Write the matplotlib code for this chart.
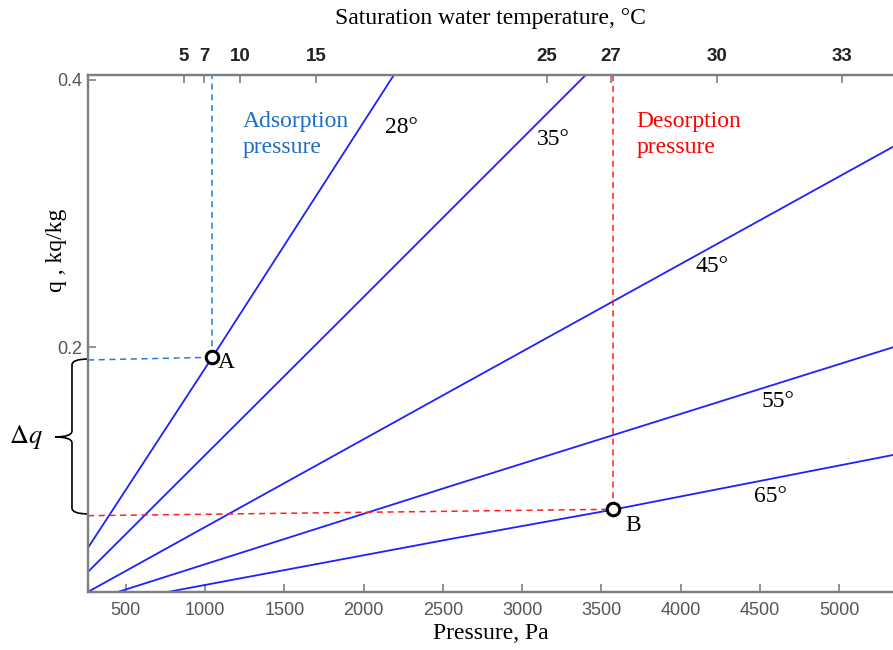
import matplotlib.pyplot as plt
import matplotlib.transforms as mtransforms
from matplotlib.path import Path
from matplotlib.patches import PathPatch

# isotherms: pressure [Pa] vs uptake q [kg/kg]
p_28 = [262, 1046, 2193]
q_28 = [0.050, 0.1925, 0.404]
p_35 = [262, 1852, 3404]
q_35 = [0.032, 0.220, 0.404]
p_45 = [262, 2546, 5340]
q_45 = [0.017, 0.167, 0.350]
p_55 = [453, 2546, 5340]
q_55 = [0.017, 0.096, 0.200]
p_65 = [768, 2546, 3587, 5340]
q_65 = [0.017, 0.0565, 0.0788, 0.1194]

# cycle points
p_A, q_A = 1046, 0.1925
p_B, q_B = 3575, 0.0788
q_A_dash = 0.1905
q_B_dash_left = 0.074

# saturation temperature axis (top)
sat_temp = [5, 7, 10, 15, 25, 27, 30, 33]
sat_press = [868, 996, 1221, 1700, 3156, 3560, 4229, 5017]

p_ticks = [500, 1000, 1500, 2000, 2500, 3000, 3500, 4000, 4500, 5000]
q_ticks = [0.2, 0.4]

serif = 'Liberation Serif'
sans = 'Liberation Sans'
plt.rcParams['mathtext.fontset'] = 'stix'

fig = plt.figure(figsize=(8.93, 6.5), dpi=100)
ax = fig.add_axes([88/893, 1 - 592/650, 805/893, 517/650])

blue = '#1f1fff'
for p, q in [(p_28, q_28), (p_35, q_35), (p_45, q_45), (p_55, q_55), (p_65, q_65)]:
    ax.plot(p, q, color=blue, lw=1.3)

# adsorption pressure guide (A)
ax.plot([p_A, p_A], [q_A, 0.41], color='#1f7fd6', lw=1.1, ls=(0, (4, 3)))
ax.plot([262, p_A], [q_A_dash, q_A], color='#1f7fd6', lw=1.1, ls=(0, (4, 3)))
# desorption pressure guide (B)
ax.plot([p_B, p_B], [q_B, 0.41], color='#ff2020', lw=1.1, ls=(0, (4, 3)))
ax.plot([262, p_B], [q_B_dash_left, q_B], color='#ff2020', lw=1.1, ls=(0, (4, 3)))

ax.plot([p_A, p_B], [q_A, q_B], ls='none', marker='o', ms=9, mfc='white',
        mec='black', mew=2.2, zorder=5)

ax.set_xlim(262, 5340)
ax.set_ylim(0.0169, 0.4037)

txt = dict(family=serif, fontsize=17)
ax.text(1137, 0.1884, 'A', ha='center', va='center', **txt)
ax.text(3702, 0.0670, 'B', ha='center', va='center', **txt)
ax.text(2241, 0.3641, '28°', ha='center', va='center', **txt)
ax.text(3196, 0.3551, '35°', ha='center', va='center', **txt)
ax.text(4197, 0.2603, '45°', ha='center', va='center', **txt)
ax.text(4617, 0.1593, '55°', ha='center', va='center', **txt)
ax.text(4565, 0.0882, '65°', ha='center', va='center', **txt)
ax.text(1240, 0.3592, 'Adsorption\npressure', ha='left', va='center',
        color='#1a6fc4', linespacing=1.3, **txt)
ax.text(3724, 0.3592, 'Desorption\npressure', ha='left', va='center',
        color='#ff0000', linespacing=1.3, **txt)

# brace for delta q
trans = mtransforms.blended_transform_factory(ax.transAxes, ax.transData)
xs, xt = -0.0199, -0.041
yt, ym, yb = 0.1912, 0.1329, 0.0753
r = 0.0045
verts = [(0, yt), (xs, yt), (xs, yt - r),
         (xs, ym + r), (xs, ym), (xt, ym),
         (xs, ym), (xs, ym - r),
         (xs, yb + r), (xs, yb), (0, yb)]
codes = [Path.MOVETO, Path.CURVE3, Path.CURVE3,
         Path.LINETO, Path.CURVE3, Path.CURVE3,
         Path.CURVE3, Path.CURVE3,
         Path.LINETO, Path.CURVE3, Path.CURVE3]
ax.add_patch(PathPatch(Path(verts, codes), transform=trans, fill=False,
                       lw=1.2, color='black', clip_on=False))
ax.text(-0.0771, ym, r'$\Delta q$', transform=trans, ha='center', va='center',
        fontsize=19)

grey = '#7f7f7f'
for side in ['left', 'bottom', 'top']:
    ax.spines[side].set_color(grey)
    ax.spines[side].set_linewidth(1.6)
ax.spines['right'].set_visible(False)

ax.set_xticks(p_ticks)
ax.set_yticks(q_ticks)
ax.set_yticklabels(['0.2', '0.4'])
ax.tick_params(direction='in', length=5.5, width=1.2, color=grey,
               labelsize=13, labelcolor='#555555')
ax.tick_params(axis='x', pad=7)
ax.tick_params(axis='y', pad=4)
for lab in ax.get_xticklabels() + ax.get_yticklabels():
    lab.set_family(sans)

ax.set_xlabel('Pressure, Pa', family=serif, fontsize=17, va='center')
ax.xaxis.set_label_coords(0.5, -0.080)
ax.set_ylabel('q , kq/kg', family=serif, fontsize=17, va='center')
ax.yaxis.set_label_coords(-0.0386, 0.66)

ax2 = ax.twiny()
ax2.set_xlim(ax.get_xlim())
ax2.set_xticks(sat_press)
ax2.set_xticklabels([str(t) for t in sat_temp])
ax2.tick_params(direction='in', length=5.5, width=1.2, color=grey,
                labelsize=13.5, labelcolor='#222222', pad=7)
for lab in ax2.get_xticklabels():
    lab.set_family(sans)
    lab.set_weight('bold')
for side in ['left', 'bottom', 'top']:
    ax2.spines[side].set_color(grey)
    ax2.spines[side].set_linewidth(1.6)
ax2.spines['right'].set_visible(False)
ax2.set_xlabel('Saturation water temperature, °C', family=serif, fontsize=17,
               va='center')
ax2.xaxis.set_label_coords(0.5, 1.110)

fig.savefig('out.png', dpi=100)
